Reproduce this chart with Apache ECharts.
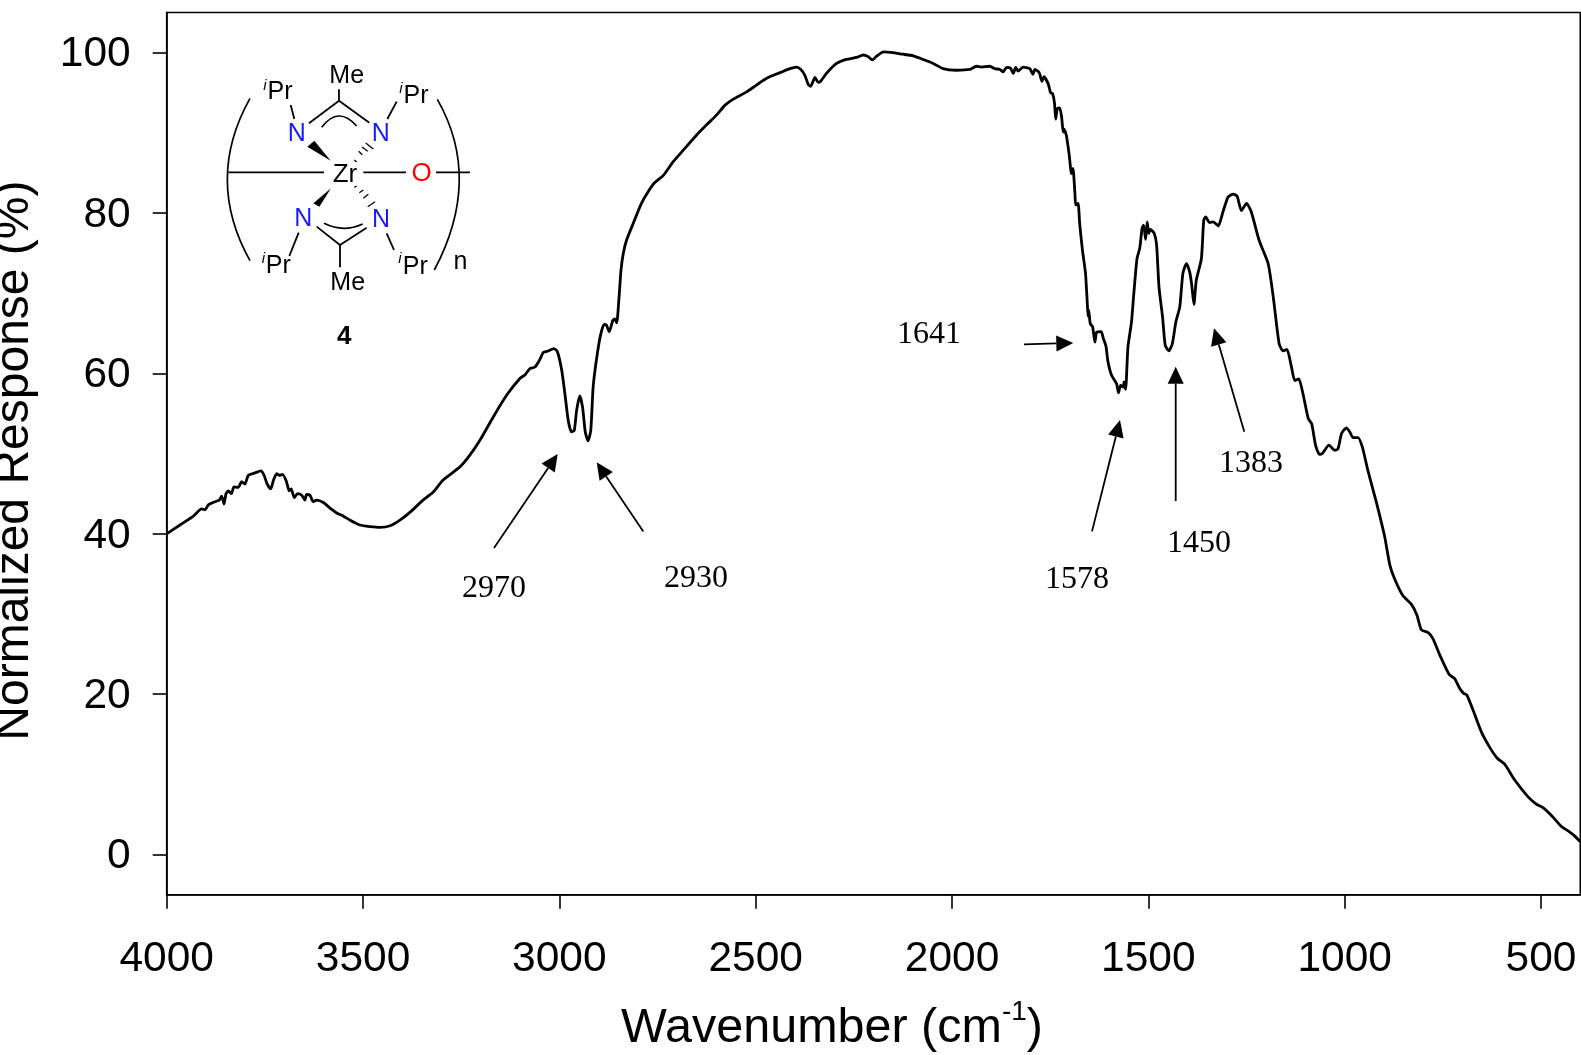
<!DOCTYPE html>
<html>
<head>
<meta charset="utf-8">
<style>html,body{margin:0;padding:0;background:#fff}#c{width:1581px;height:1055px}</style>
<script src="https://cdn.jsdelivr.net/npm/echarts@6/dist/echarts.min.js"></script>
</head>
<body>
<div id="c"></div>
<script>
const wavenumbers = [
4000,3966,3932,3911,3902,3894,3877,3866,3860,3854,3849,3843,3835,3829,3818,3809,3801,3792,3775,3760,3752,3745,3735,3728,3720,3713,3705,3695,3688,3683,3675,3667,3656,3648,3644,3635,3627,3618,3601,3584,3567,3550,3533,3508,3482,3457,3431,3406,3380,3347,3321,3296,3253,3228,3202,
3168,3134,3100,3088,3075,3062,3050,3041,3028,3014,3005,2994,2986,2977,2969,2962,2956,2948,2941,2934,2927,2920,2914,2905,2895,2886,2880,2873,2864,2859,2854,
2848,2843,2837,2829,2812,2791,2774,2757,2735,2710,2685,2651,2625,2600,2578,2557,2523,2498,2472,2438,2413,2396,2385,2375,2366,2360,2354,2349,2341,2335,2320,2294,2269,2243,2226,2214,2203,2192,2175,2150,2133,
2125,2099,2074,2048,2023,1989,1955,1938,1925,1904,1891,1878,1870,1861,1851,1844,1838,1832,1819,1802,1794,1789,1778,1771,1766,1755,1749,1744,
1739,1736,1732,1726,1721,1717,1715,1709,1702,1698,1696,1692,1687,1685,1679,1675,1668,1660,1653,1652,1648,1642,1636,1632,1620,1615,1608,1603,
1594,1581,1576,1571,1564,1562,1558,1552,1543,1537,1529,1522,1516,1512,1507,1503,1499,1495,1485,1479,1473,1464,1457,1448,1439,1430,1420,1412,1403,1395,1390,1384,1378,1365,1359,1354,1344,1335,1322,1310,1297,1284,1274,1263,1250,1238,1218,1195,1182,1167,1157,1147,1136,1127,1117,1106,1093,1084,
1074,1064,1057,1040,1025,1017,1008,996,987,979,966,955,941,924,913,898,885,873,852,830,816,805,788,775,
758,734,720,707,697,689,673,652,631,612,593,567,533,512,495,470,448,431,414,400
];
const response = [
40.0,41.1,42.2,43.1,43.0,43.6,44.0,44.2,44.7,43.7,45.0,45.35,45.0,45.85,45.8,46.5,46.2,47.3,47.6,47.85,47.3,46.3,45.6,46.7,47.5,47.3,47.4,46.5,45.35,45.6,44.5,45.0,44.8,44.2,44.9,44.8,44.0,44.2,43.9,43.2,42.6,42.2,41.7,41.1,40.9,40.8,41.0,41.7,42.7,44.2,45.2,46.7,48.35,49.8,51.7,
54.6,57.3,59.4,59.8,60.6,60.8,61.7,62.6,62.8,63.1,62.7,60.4,57.5,54.0,52.7,52.9,55.4,57.2,55.8,52.7,51.6,52.9,58.3,61.9,64.8,66.1,66.0,65.2,66.6,66.8,66.3,
69.5,72.9,75.0,76.6,78.7,81.2,82.65,83.8,84.7,86.4,87.8,89.7,91.0,92.2,93.45,94.2,95.1,95.95,96.8,97.5,98.0,98.2,97.9,97.2,96.0,95.8,96.4,96.9,96.3,96.4,97.4,98.65,99.15,99.4,99.7,99.5,99.1,99.55,100.1,100.0,99.85,
99.8,99.6,99.15,98.65,98.0,97.8,97.9,98.3,98.2,98.3,98.0,97.9,97.6,98.15,98.05,97.4,98.15,97.7,98.2,98.0,97.3,97.9,97.5,96.4,97.0,96.1,95.0,94.9,
93.7,91.7,93.0,93.1,92.0,90.1,90.5,89.7,87.4,85.55,84.9,85.55,82.4,81.0,81.2,78.7,75.4,72.45,67.1,67.9,66.2,65.8,63.9,65.1,65.2,64.4,63.4,61.5,
59.8,58.7,57.6,58.5,58.3,58.95,58.0,63.3,66.4,70.0,74.3,75.6,78.1,78.5,76.7,78.9,77.45,77.95,77.45,76.0,70.8,67.1,63.5,62.8,63.7,66.4,68.3,72.5,73.7,72.7,71.2,68.6,71.6,74.3,79.1,79.5,78.8,78.9,78.4,80.15,82.0,82.35,82.1,80.3,81.2,80.15,76.6,73.7,69.55,63.7,62.8,63.0,60.9,59.1,59.3,57.4,54.4,53.7,
51.0,49.9,50.0,51.05,50.4,50.6,52.5,53.2,52.7,52.0,52.0,50.8,47.9,44.8,42.7,39.6,36.1,34.4,32.3,31.2,29.85,28.05,27.7,26.9,
24.9,22.45,21.95,20.7,20.1,19.9,18.0,15.3,13.4,12.05,11.3,9.3,7.2,6.3,5.85,4.7,3.5,2.95,2.3,1.6
];
const xTickValues = [4000,3500,3000,2500,2000,1500,1000,500];
const yTickValues = [0,20,40,60,80,100];
const peakLabels = ['2970','2930','1641','1578','1450','1383'];
const xTitle = 'Wavenumber (cm';
const xTitleSup = '-1';
const xTitleEnd = ')';
const yTitle = 'Normalized Response (%)';

const chart = echarts.init(document.getElementById('c'), null, {renderer:'canvas'});

const SANS = '"Liberation Sans", Arial, sans-serif';
const SERIF = '"Liberation Serif", "Times New Roman", serif';
const g = [];

function line(x1,y1,x2,y2,w){
  g.push({type:'line',silent:true,shape:{x1,y1,x2,y2},style:{stroke:'#000',lineWidth:w||1.8}});
}
function text(t,x,y,font,fill){
  g.push({type:'text',silent:true,style:{text:t,x,y,font,fill:fill||'#000',align:'center',verticalAlign:'middle'}});
}
function arrow(x1,y1,x2,y2){
  const a=Math.atan2(y2-y1,x2-x1), L=17, W=8;
  const bx=x2-L*Math.cos(a), by=y2-L*Math.sin(a);
  line(x1,y1,bx,by,1.8);
  g.push({type:'polygon',silent:true,shape:{points:[[x2,y2],[bx-W*Math.sin(a),by+W*Math.cos(a)],[bx+W*Math.sin(a),by-W*Math.cos(a)]]},style:{fill:'#000'}});
}
arrow(494,548,557.7,454);
arrow(643.3,531.4,596.7,462.3);
arrow(1024,344.3,1073.3,343);
arrow(1092,531.4,1120,420);
arrow(1175.7,501,1175.7,366.7);
arrow(1244.3,431.7,1214,328.3);
const labelPos = [[494,589],[696,579],[929,335],[1077,580],[1199,543.5],[1251,464]];
peakLabels.forEach((t,i)=>text(t,labelPos[i][0],labelPos[i][1],'32px '+SERIF));

// inset structure, drawn in its own small coordinate frame
const zx=x=>200+x/3, zy=y=>50+y/3;
function zl(a,b,c,d,w){line(zx(a),zy(b),zx(c),zy(d),w||1.8);}
function zc(x1,y1,cx,cy,x2,y2){
  g.push({type:'bezierCurve',silent:true,shape:{x1:zx(x1),y1:zy(y1),cpx1:zx(cx),cpy1:zy(cy),x2:zx(x2),y2:zy(y2)},style:{stroke:'#000',lineWidth:1.7,fill:null}});
}
function zw(p){g.push({type:'polygon',silent:true,shape:{points:p.map(q=>[zx(q[0]),zy(q[1])])},style:{fill:'#000'}});}
function zt(t,x,y,size,fill,style){text(t,zx(x),zy(y),(style?style+' ':'')+size+'px '+SANS,fill);}
zc(150,145,14,388,150,632);
zc(712,148,848,386,703,660);
zl(85,367,372,367); zl(490,367,618,367); zl(708,367,810,367);
zl(327,220,417,152); zl(417,152,508,218); zl(417,152,417,118);
zc(365,232,415,166,470,228);
zl(272,165,283,207); zl(590,155,562,207);
zw([[322,290],[343,272],[392,332]]);
zl(497,279,520,297,1.3); zl(486,291,503,304,1.3); zl(476,304,487,314,1.3); zl(463,330,470,336,1.3);
zw([[393,415],[340,460],[358,470]]);
zl(463,412,470,408,1.3); zl(478,428,490,420,1.3); zl(490,445,505,433,1.3); zl(503,470,525,455,1.3);
zl(350,530,420,585); zl(420,585,500,533); zl(420,585,420,652);
zc(372,520,430,549,488,522);
zl(296,548,268,618); zl(560,550,582,600);
zt('Me',440,77,25);
zt('Me',443,699,25);
zt('N',290,252,25,'#1a1aff');
zt('N',542,252,25,'#1a1aff');
zt('N',310,507,25,'#1a1aff');
zt('N',543,510,25,'#1a1aff');
zt('Zr',435,374,26);
zt('O',665,370,26,'#ff0000');
zt('i',195,107,15,'#000','italic'); zt('Pr',240,127,25);
zt('i',603,115,15,'#000','italic'); zt('Pr',648,137,25);
zt('i',190,627,15,'#000','italic'); zt('Pr',235,649,25);
zt('i',600,627,15,'#000','italic'); zt('Pr',646,652,25);
zt('n',781,637,25);
zt('4',433,859,26,'#000','bold');

chart.setOption({
  animation:false,
  backgroundColor:'#fff',
  textStyle:{fontFamily:SANS},
  grid:{left:166.7,right:0.7,top:12.5,bottom:160.3,show:true,borderColor:'#000',borderWidth:1.6,backgroundColor:'transparent',outerBoundsMode:'none',containLabel:false},
  xAxis:{
    type:'value',inverse:true,min:400,max:4000,interval:100,
    name:'{a|'+xTitle+'}{s|'+xTitleSup+'}{a|'+xTitleEnd+'}',
    nameLocation:'middle',nameGap:104,nameMoveOverlap:false,
    nameTextStyle:{padding:[0,83,0,0],rich:{a:{fontSize:48.5,fontFamily:SANS,color:'#000',verticalAlign:'bottom',lineHeight:54},s:{fontSize:28,fontFamily:SANS,color:'#000',verticalAlign:'top',lineHeight:54}}},
    axisLine:{show:true,onZero:false,lineStyle:{color:'#000',width:1.6}},
    axisTick:{show:true,length:14,customValues:xTickValues,lineStyle:{color:'#000',width:1.6}},
    axisLabel:{show:true,customValues:xTickValues,fontSize:42.5,color:'#000',margin:43,fontFamily:SANS,hideOverlap:false,showMinLabel:true,showMaxLabel:true,formatter:v=>String(v)},
    splitLine:{show:false}
  },
  yAxis:{
    type:'value',min:-5,max:105,interval:5,
    name:yTitle,nameLocation:'middle',nameGap:128,nameRotate:90,nameMoveOverlap:false,
    nameTextStyle:{fontSize:48,fontFamily:SANS,color:'#000',padding:[0,14,0,0]},
    axisLine:{show:true,onZero:false,lineStyle:{color:'#000',width:1.6}},
    axisTick:{show:true,length:14,customValues:yTickValues,lineStyle:{color:'#000',width:1.6}},
    axisLabel:{show:true,customValues:yTickValues,margin:36,formatter:v=>'{v|'+v+'}',rich:{v:{fontSize:42.5,color:'#000',fontFamily:SANS,padding:[4,0,0,0]}}},
    splitLine:{show:false}
  },
  series:[{
    type:'line',showSymbol:false,symbol:'none',smooth:0.2,
    lineStyle:{color:'#000',width:2.8,join:'round'},
    data:wavenumbers.map((w,i)=>[w,response[i]])
  }],
  graphic:{elements:g}
});
</script>
</body>
</html>
